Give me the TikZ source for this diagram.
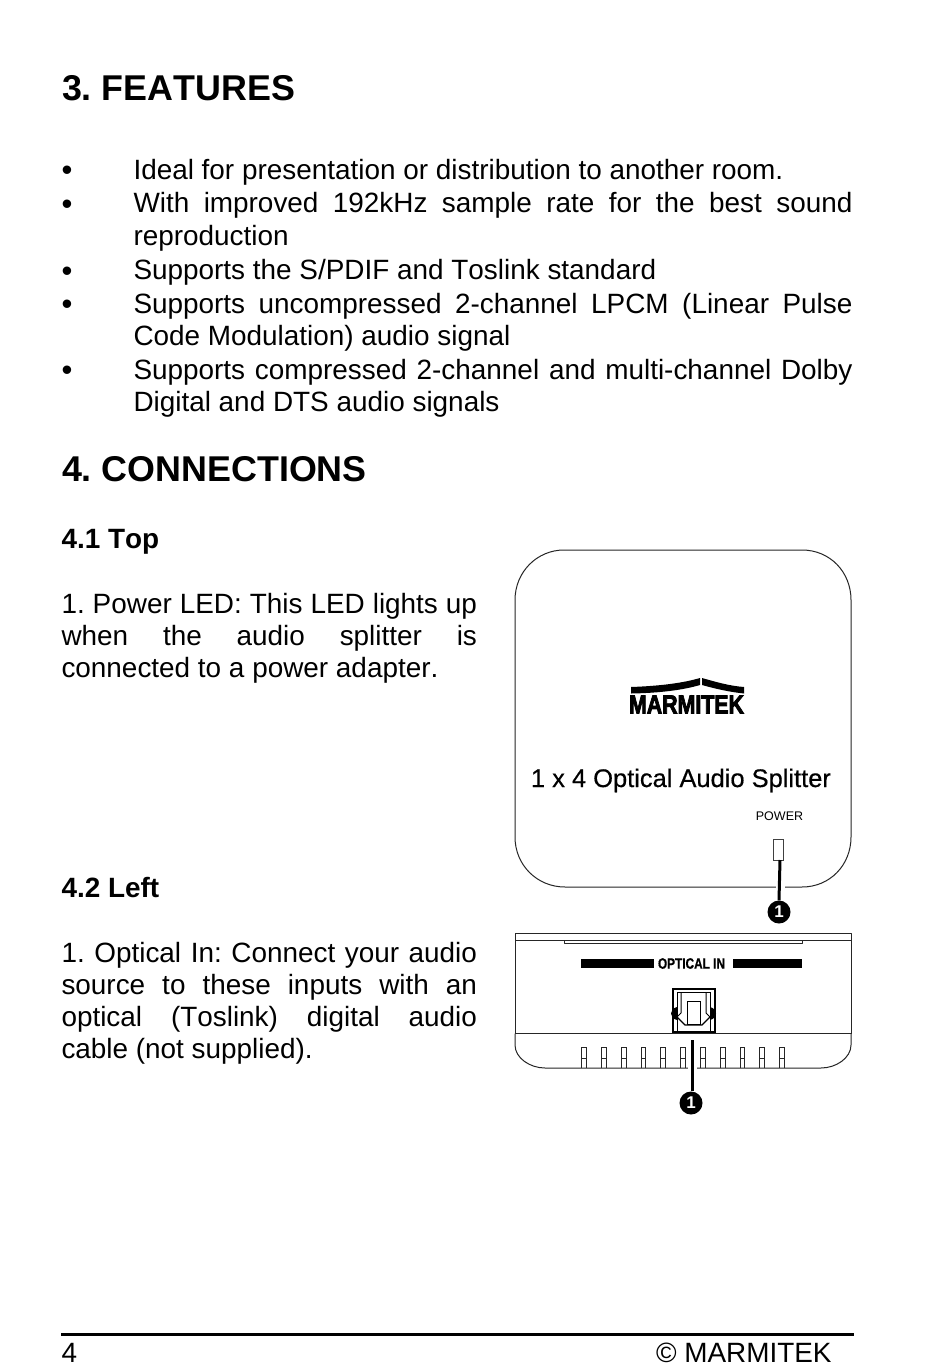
\documentclass[tikz,border=0pt]{standalone}
\usepackage{fontspec}
\setmainfont[Kerning=Off]{Liberation Sans}
\newfontfamily\logofont[FakeBold=3.5]{Liberation Sans Bold}
\newfontfamily\optfont[FakeBold=0.6]{Liberation Sans Bold}
\newfontfamily\titlefont[FakeBold=0.5,Kerning=On]{Liberation Sans}
\frenchspacing
\tikzset{
  x=1pt,y=-1pt,
  txt/.style={anchor=base west,inner sep=0pt,outer sep=0pt,font=\fontsize{27.9}{33}\selectfont,text=black},
  head/.style={txt,font=\fontsize{35.85}{40}\bfseries\selectfont},
  sub/.style={txt,font=\fontsize{27.9}{33}\bfseries\selectfont},
  bul/.style={anchor=base,inner sep=0pt,font=\fontsize{31}{33}\selectfont},
  outl/.style={draw=black!85,line width=1pt,line join=round},
  badge/.style={circle,fill=black,inner sep=0pt,minimum size=23pt,text=white,font=\fontsize{17}{17}\bfseries\selectfont},
  lead/.style={draw=black,line width=3pt},
  halo/.style={draw=white,line width=9pt},
  slot/.style={draw=black!85,line width=.9pt},
}
\newcommand{\jl}[2]{\makebox[#1pt][s]{#2}}
\begin{document}
\begin{tikzpicture}
\useasboundingbox (0,0) rectangle (950,1367);
\fill[white] (0,0) rectangle (950,1367);
% Section 3
\node[head] (h3) at (62,100.5) {3. FEATURES};
\foreach \n/\y in {a/181,b/214.5,c/281,d/314.5,e/380.5}{\node[bul] (bul\n) at (67,\y) {•};}
\node[txt] (l1) at (133.5,179.2) {Ideal for presentation or distribution to another room.};
\node[txt] (l2) at (133.5,212.7) {\jl{719}{With improved 192kHz sample rate for the best sound}};
\node[txt] (l3) at (133.5,245.2) {reproduction};
\node[txt] (l4) at (133.5,279.2) {Supports the S/PDIF and Toslink standard};
\node[txt] (l5) at (133.5,313) {\jl{719}{Supports uncompressed 2-channel LPCM (Linear Pulse}};
\node[txt] (l6) at (133.5,345.2) {Code Modulation) audio signal};
\node[txt] (l7) at (133.5,379.2) {\jl{719}{Supports compressed 2-channel and multi-channel Dolby}};
\node[txt] (l8) at (133.5,411.2) {Digital and DTS audio signals};
% Section 4
\node[head] (h4) at (62,481.5) {4. CONNECTIONS};
\node[sub] (h41) at (61.5,548) {4.1 Top};
\node[txt] (p1) at (61.5,613) {\jl{415.5}{1. Power LED: This LED lights up}};
\node[txt] (p2) at (61.5,645) {\jl{415.5}{when the audio splitter is}};
\node[txt] (p3) at (61.5,677) {connected to a power adapter.};
\node[sub] (h42) at (61.5,897) {4.2 Left};
\node[txt] (q1) at (61.5,962) {\jl{415.5}{1. Optical In: Connect your audio}};
\node[txt] (q2) at (61.5,994) {\jl{415.5}{source to these inputs with an}};
\node[txt] (q3) at (61.5,1026) {\jl{415.5}{optical (Toslink) digital audio}};
\node[txt] (q4) at (61.5,1058) {cable (not supplied).};
% Top view
\draw[outl] (564,550) -- (802,550) .. controls (830,550) and (851,572) .. (851,600)
  -- (851,837) .. controls (851,865) and (830,887) .. (802,887)
  -- (565,887) .. controls (537,887) and (515,865) .. (515,837)
  -- (515,600) .. controls (515,572) and (537,550) .. (564,550) -- cycle;
% Logo
\fill[black] (631,687) .. controls (660,686) and (683,683) .. (700,678) -- (700,685) .. controls (683,690) and (660,693) .. (631,693.5) -- cycle;
\fill[black] (702,678) .. controls (716,682) and (730,686) .. (744,687) -- (744,693.5) .. controls (730,692) and (716,689) .. (702,685) -- cycle;
\node[inner sep=0pt] (logo) at (686.5,704.5) {\resizebox{115pt}{18pt}{\logofont MARMITEK}};
\node[txt,font=\fontsize{25.45}{30}\titlefont] (title) at (531,787) {1 x 4 Optical Audio Splitter};
\node[anchor=base,inner sep=0pt,font=\fontsize{12.5}{16}\selectfont] (power) at (779.5,820) {POWER};
\node[draw=black!75,line width=.8pt,inner sep=0pt,minimum width=10pt,minimum height=21pt] (led) at (778,849.5) {};
\draw[halo] (780,881) -- (780,892);
\node[badge] (n1) at (779,912) {1};
\draw[lead] (780,860) -- (n1.north);
% Left view
\draw[outl] (515,1033.5) -- (515,933) -- (851,933) -- (851,1033.5);
\draw[outl] (515,940) -- (851,940);
\draw[outl,line width=.8pt] (564,940) -- (564,943) -- (802,943) -- (802,940);
\fill[black] (581,959) rectangle (654,967.5);
\fill[black] (733,959) rectangle (802,967.5);
\node[inner sep=0pt] (opt) at (691.5,963.5) {\resizebox{67pt}{10.5pt}{\optfont OPTICAL IN}};
% Toslink socket
\draw[black,line width=2pt] (673,1033) -- (673,988.5) -- (714.5,988.5) -- (714.5,1033);
\draw[black,line width=1pt] (677,1033) -- (677,992) -- (710,992) -- (710,1033);
\fill[black] (677,1007) .. controls (669,1009) and (669,1018) .. (677,1020) -- cycle;
\fill[black] (710,1007) .. controls (718,1009) and (718,1018) .. (710,1020) -- cycle;
\draw[black,line width=1pt] (681,992) -- (681,1013) -- (677,1017);
\draw[black,line width=1pt] (706,992) -- (706,1013) -- (710,1017);
\draw[black,line width=1.2pt] (677,1017) -- (685,1025) -- (702,1025) -- (710,1017);
\draw[black,line width=.9pt] (687,1001) rectangle (700,1024.5);
\draw[black,line width=2.5pt] (672,1032.5) -- (715.5,1032.5);
\draw[outl] (515,1033.5) -- (851,1033.5);
\draw[outl] (515,1033.5) -- (515,1045) .. controls (515,1058) and (530,1068) .. (545,1068) -- (821,1068) .. controls (836,1068) and (851,1058) .. (851,1045) -- (851,1033.5);
\foreach \x in {584,603.8,623.6,643.4,663.2,683,702.8,722.6,742.4,762.2,782}{
  \draw[slot] (\x-2.4,1068) -- (\x-2.4,1047.5) -- (\x+2.4,1047.5) -- (\x+2.4,1068);
  \draw[slot] (\x-2.4,1058) -- (\x+2.4,1058);
}
\draw[halo] (692.5,1063) -- (692.5,1073);
\node[badge] (n2) at (691,1103) {1};
\coordinate (socket) at (692.5,1040);
\draw[lead] (socket) -- (n2.north -| socket);
% Footer
\draw[black,line width=3pt] (61,1334) -- (854,1334);
\node[txt] (pg) at (61.5,1362) {4};
\node[txt] (cp) at (656,1362) {© MARMITEK};
\end{tikzpicture}
\end{document}
